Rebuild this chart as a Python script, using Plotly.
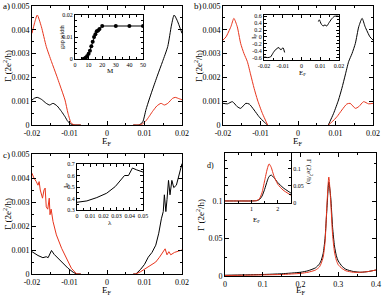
import plotly.graph_objects as go

W, H = 383, 296
BLACK = "#000000"
RED = "#e8341c"
FONT = "Liberation Serif"

# ---------------- panel a ----------------
a_red_left_x = [-0.02, -0.0193, -0.0186, -0.0175, -0.0162, -0.0148, -0.0135, -0.0121, -0.0112, -0.0104, -0.0095, -0.0085, -0.007]
a_red_left_y = [0.00385, 0.0043, 0.00462, 0.00413, 0.0033, 0.00266, 0.0021, 0.00147, 0.00105, 0.00049, 0.00007, 0.0, 0.0]
a_blk_left_x = [-0.02, -0.0193, -0.0186, -0.0175, -0.0162, -0.0153, -0.0144, -0.0133, -0.0121, -0.0112, -0.0104, -0.0095, -0.0085, -0.007]
a_blk_left_y = [0.00105, 0.00113, 0.00116, 0.00108, 0.00091, 0.00084, 0.00091, 0.0008, 0.00056, 0.00035, 0.00014, 0.00003, 0.0, 0.0]
a_blk_right_x = [0.007, 0.0085, 0.0095, 0.0104, 0.0112, 0.0121, 0.0135, 0.0148, 0.0162, 0.0172, 0.0179, 0.0187, 0.02]
a_blk_right_y = [0.0, 0.0, 0.00012, 0.00065, 0.00105, 0.00147, 0.0021, 0.00266, 0.0033, 0.0042, 0.00462, 0.0044, 0.00385]
a_red_right_x = [0.007, 0.0085, 0.0095, 0.0104, 0.0112, 0.0121, 0.0133, 0.0144, 0.0153, 0.0162, 0.0175, 0.0182, 0.0193, 0.02]
a_red_right_y = [0.0, 0.0, 0.00005, 0.00018, 0.00035, 0.00056, 0.0008, 0.00091, 0.00084, 0.00091, 0.00112, 0.00116, 0.0011, 0.00106]

# inset a
ins_a_M = [6, 7, 8, 9, 10, 11, 12, 13, 14, 15, 16, 17, 18, 20, 30, 40, 50]
ins_a_gap = [0.0, 0.0002, 0.0007, 0.0014, 0.0024, 0.0038, 0.0058, 0.0078, 0.0100, 0.0112, 0.0126, 0.0130, 0.0136, 0.0150, 0.0150, 0.0150, 0.0150]

# ---------------- panel b ----------------
b_red_left_x = [-0.02, -0.0192, -0.0179, -0.0171, -0.0162, -0.0153, -0.0144, -0.0135, -0.0126, -0.0117, -0.0108, -0.0095, -0.0085, -0.0081]
b_red_left_y = [0.00357, 0.0037, 0.00413, 0.00448, 0.00413, 0.00343, 0.0030, 0.00266, 0.0021, 0.00154, 0.00105, 0.00049, 0.00014, 0.0]
b_blk_left_x = [-0.02, -0.0188, -0.0175, -0.0162, -0.0153, -0.0139, -0.013, -0.0117, -0.0104, -0.009, -0.0081]
b_blk_left_y = [0.00091, 0.00089, 0.00098, 0.00077, 0.0007, 0.00091, 0.00088, 0.00063, 0.00035, 0.00012, 0.0]
b_blk_right_x = [0.0081, 0.0085, 0.0095, 0.0108, 0.0117, 0.0126, 0.0135, 0.0144, 0.0153, 0.0162, 0.0171, 0.0179, 0.0192, 0.02]
b_blk_right_y = [0.0, 0.00014, 0.00049, 0.00105, 0.00154, 0.0021, 0.00266, 0.0030, 0.00343, 0.00413, 0.00448, 0.00413, 0.0037, 0.00357]
b_red_right_x = [0.0081, 0.009, 0.0104, 0.0117, 0.013, 0.0139, 0.0153, 0.0162, 0.0175, 0.0188, 0.02]
b_red_right_y = [0.0, 0.00012, 0.00035, 0.00063, 0.00088, 0.00091, 0.0007, 0.00077, 0.00098, 0.00089, 0.00091]

# inset b
ins_b_left_x = [-0.0198, -0.018, -0.0165, -0.015, -0.014, -0.013, -0.012, -0.011, -0.0105, -0.0098, -0.009]
ins_b_left_y = [-0.58, -0.60, -0.58, -0.45, -0.38, -0.33, -0.31, -0.38, -0.34, -0.32, -0.45]
ins_b_right_x = [0.009, 0.0095, 0.0105, 0.0115, 0.0125, 0.0135, 0.0145, 0.016, 0.0175, 0.019, 0.0198]
ins_b_right_y = [0.45, 0.50, 0.38, 0.32, 0.35, 0.32, 0.40, 0.52, 0.60, 0.61, 0.60]

# ---------------- panel c ----------------
c_red_left_x = [-0.02, -0.0195, -0.0189, -0.0184, -0.0181, -0.0178, -0.0172, -0.0168, -0.0165, -0.0162, -0.0158, -0.0154, -0.0152, -0.0149, -0.0144, -0.0135, -0.0121, -0.0108, -0.0095, -0.0081, -0.007]
c_red_left_y = [0.0042, 0.0040, 0.00386, 0.0037, 0.00385, 0.0035, 0.00316, 0.0035, 0.00358, 0.0028, 0.0027, 0.00316, 0.00247, 0.0027, 0.00219, 0.00163, 0.00107, 0.00065, 0.00024, 0.0, 0.0]
c_blk_left_x = [-0.02, -0.0184, -0.0171, -0.0162, -0.0157, -0.0153, -0.0148, -0.0141, -0.013, -0.0117, -0.0104, -0.009, -0.0081, -0.007]
c_blk_left_y = [0.00093, 0.00077, 0.00068, 0.00072, 0.00068, 0.00082, 0.00098, 0.00082, 0.00065, 0.00045, 0.00024, 0.00007, 0.0, 0.0]
c_blk_right_x = [0.007, 0.0077, 0.009, 0.01, 0.011, 0.012, 0.013, 0.0138, 0.0145, 0.015, 0.0153, 0.0157, 0.016, 0.0164, 0.0168, 0.0173, 0.0178, 0.0185, 0.019, 0.0195, 0.02]
c_blk_right_y = [0.0, 0.0, 0.0002, 0.0004, 0.0007, 0.0009, 0.0012, 0.0017, 0.0023, 0.0026, 0.0033, 0.0026, 0.0031, 0.0039, 0.0033, 0.0039, 0.0036, 0.0037, 0.0040, 0.0043, 0.0046]
c_red_right_x = [0.007, 0.0077, 0.009, 0.01, 0.011, 0.012, 0.013, 0.014, 0.0148, 0.0155, 0.016, 0.0165, 0.017, 0.0175, 0.018, 0.019, 0.02]
c_red_right_y = [0.0, 0.0, 0.0001, 0.0002, 0.0003, 0.0004, 0.0005, 0.0007, 0.0009, 0.00105, 0.0008, 0.00093, 0.0008, 0.00085, 0.0009, 0.00095, 0.001]

# inset c
ins_c_lam = [0.0, 0.0075, 0.015, 0.0225, 0.029, 0.0325, 0.036, 0.039, 0.041, 0.042, 0.045, 0.05]
ins_c_val = [0.367, 0.379, 0.408, 0.446, 0.504, 0.548, 0.60, 0.60, 0.65, 0.665, 0.65, 0.63]

# ---------------- panel d ----------------
d_x = [0.0, 0.05, 0.1, 0.15, 0.2, 0.22, 0.24, 0.25, 0.255, 0.26, 0.265, 0.27, 0.275, 0.28, 0.285, 0.29, 0.295, 0.3, 0.31, 0.32, 0.34, 0.36, 0.38, 0.4]
d_blk = [0.001, 0.0015, 0.002, 0.003, 0.005, 0.007, 0.011, 0.016, 0.021, 0.03, 0.05, 0.09, 0.125, 0.105, 0.065, 0.04, 0.027, 0.02, 0.013, 0.009, 0.006, 0.005, 0.006, 0.008]
d_red = [0.0007, 0.001, 0.0015, 0.002, 0.0035, 0.005, 0.008, 0.012, 0.017, 0.025, 0.045, 0.095, 0.132, 0.1, 0.055, 0.032, 0.021, 0.015, 0.01, 0.007, 0.005, 0.005, 0.006, 0.008]

ins_d_x = [0.0, 0.5, 1.0, 1.2, 1.3, 1.4, 1.5, 1.6, 1.67, 1.75, 1.85, 2.0, 2.2, 2.5]
ins_d_blk = [0.006, 0.006, 0.006, 0.007, 0.010, 0.020, 0.040, 0.065, 0.078, 0.082, 0.075, 0.060, 0.045, 0.029]
ins_d_red = [0.006, 0.006, 0.006, 0.007, 0.012, 0.030, 0.065, 0.100, 0.115, 0.105, 0.080, 0.055, 0.038, 0.023]

# tick labels
ef_ticks = [-0.02, -0.01, 0, 0.01, 0.02]
ef_labels = ["-0.02", "-0.01", "0", "0.01", "0.02"]
g_ticks = [0, 0.001, 0.002, 0.003, 0.004, 0.005]
g_labels = ["0", "0.001", "0.002", "0.003", "0.004", "0.005"]
d_xticks = [0, 0.1, 0.2, 0.3, 0.4]
d_xlabels = ["0", "0.1", "0.2", "0.3", "0.4"]
d_yticks = [0, 0.05, 0.1]
d_ylabels = ["0", "0.05", "0.1"]
ins_a_xt = [0, 10, 20, 30, 40, 50]
ins_a_xl = ["0", "10", "20", "30", "40", "50"]
ins_a_yt = [0, 0.01, 0.02]
ins_a_yl = ["0", "0.01", "0.02"]
ins_b_yt = [-0.6, -0.4, -0.2, 0, 0.2, 0.4, 0.6]
ins_b_yl = ["-0.6", "-0.4", "-0.2", "0", "0.2", "0.4", "0.6"]
ins_c_xt = [0, 0.01, 0.02, 0.03, 0.04, 0.05]
ins_c_xl = ["0", "0.01", "0.02", "0.03", "0.04", "0.05"]
ins_c_yt = [0.3, 0.4, 0.5, 0.6, 0.7]
ins_c_yl = ["0.3", "0.4", "0.5", "0.6", "0.7"]
ins_d_xt = [1, 2]
ins_d_xl = ["1", "2"]
ins_d_yt = [0, 0.05, 0.1]
ins_d_yl = ["0", "0.05", "0.1"]

fig = go.Figure()

def line(x, y, color, ax, shape="spline", width=1.0):
    fig.add_trace(go.Scatter(x=x, y=y, mode="lines", xaxis="x" + ax, yaxis="y" + ax,
                             line=dict(color=color, width=width, shape=shape, smoothing=0.6),
                             showlegend=False, hoverinfo="skip"))

# main a
line(a_blk_left_x, a_blk_left_y, BLACK, "")
line(a_blk_right_x, a_blk_right_y, BLACK, "")
line(a_red_left_x, a_red_left_y, RED, "")
line(a_red_right_x, a_red_right_y, RED, "")
# main b
line(b_blk_left_x, b_blk_left_y, BLACK, "2")
line(b_blk_right_x, b_blk_right_y, BLACK, "2")
line(b_red_left_x, b_red_left_y, RED, "2")
line(b_red_right_x, b_red_right_y, RED, "2")
# main c
line(c_blk_left_x, c_blk_left_y, BLACK, "3", shape="linear")
line(c_blk_right_x, c_blk_right_y, BLACK, "3", shape="linear")
line(c_red_left_x, c_red_left_y, RED, "3", shape="linear")
line(c_red_right_x, c_red_right_y, RED, "3", shape="linear")
# main d
line(d_x, d_blk, BLACK, "4")
line(d_x, d_red, RED, "4")
# inset a
fig.add_trace(go.Scatter(x=ins_a_M, y=ins_a_gap, mode="lines+markers", xaxis="x5", yaxis="y5",
                         line=dict(color=BLACK, width=1), marker=dict(color=BLACK, size=4),
                         showlegend=False, hoverinfo="skip"))
# inset b
line(ins_b_left_x, ins_b_left_y, BLACK, "6")
line(ins_b_right_x, ins_b_right_y, BLACK, "6")
# inset c
line(ins_c_lam, ins_c_val, BLACK, "7", shape="linear")
# inset d
line(ins_d_x, ins_d_blk, BLACK, "8")
line(ins_d_x, ins_d_red, RED, "8")

def px_x(a, b):
    return [a / W, b / W]

def px_y(top, bottom):
    return [1 - bottom / H, 1 - top / H]

def axis(domain, rng, tv, tt, anchor, size=8, minor_dtick=None, side=None, ticklen=4):
    d = dict(domain=domain, range=rng, tickvals=tv, ticktext=tt, anchor=anchor,
             showline=True, linecolor=BLACK, linewidth=1, mirror="allticks",
             ticks="inside", ticklen=ticklen, tickwidth=1, tickcolor=BLACK,
             showgrid=False, zeroline=False, tickangle=0, automargin=False,
             tickfont=dict(family=FONT, size=size, color=BLACK))
    if minor_dtick is not None:
        d["minor"] = dict(dtick=minor_dtick, ticks="inside", ticklen=max(2, ticklen // 2),
                          tickcolor=BLACK, tickwidth=1, showgrid=False)
    if side:
        d["side"] = side
    return d

ax_a_x, ax_a_y = px_x(32, 182), px_y(6, 125)
ax_b_x, ax_b_y = px_x(223, 373), px_y(6, 125)
ax_c_x, ax_c_y = px_x(32, 182), px_y(154, 274)
ax_d_x, ax_d_y = px_x(225, 376), px_y(153, 276)

IS = 6  # inset tick font size
layout = dict(
    width=W, height=H, margin=dict(l=0, r=0, t=0, b=0),
    paper_bgcolor="white", plot_bgcolor="white",
    font=dict(family=FONT, color=BLACK),
    xaxis=axis(ax_a_x, [-0.02, 0.02], ef_ticks, ef_labels, "y", minor_dtick=0.005),
    yaxis=axis(ax_a_y, [0, 0.005], g_ticks, g_labels, "x", minor_dtick=0.0005),
    xaxis2=axis(ax_b_x, [-0.02, 0.02], ef_ticks, ef_labels, "y2", minor_dtick=0.005),
    yaxis2=axis(ax_b_y, [0, 0.005], g_ticks, g_labels, "x2", minor_dtick=0.0005),
    xaxis3=axis(ax_c_x, [-0.02, 0.02], ef_ticks, ef_labels, "y3", minor_dtick=0.005),
    yaxis3=axis(ax_c_y, [0, 0.005], g_ticks, g_labels, "x3", minor_dtick=0.0005),
    xaxis4=axis(ax_d_x, [0, 0.4], d_xticks, d_xlabels, "y4", minor_dtick=0.05),
    yaxis4=axis(ax_d_y, [0, 0.164], d_yticks, d_ylabels, "x4", minor_dtick=0.025),
    xaxis5=axis(px_x(75, 143), [0, 50], ins_a_xt, ins_a_xl, "y5", size=IS, minor_dtick=5, ticklen=3),
    yaxis5=axis(px_y(15, 59), [0, 0.02], ins_a_yt, ins_a_yl, "x5", size=IS, minor_dtick=0.0025, ticklen=3),
    xaxis6=axis(px_x(264, 339), [-0.02, 0.02], ef_ticks, ef_labels, "y6", size=IS, minor_dtick=0.005, ticklen=3),
    yaxis6=axis(px_y(15, 60), [-0.67, 0.64], ins_b_yt, ins_b_yl, "x6", size=IS, minor_dtick=0.1, ticklen=3),
    xaxis7=axis(px_x(77, 143), [0, 0.05], ins_c_xt, ins_c_xl, "y7", size=IS, minor_dtick=0.005, ticklen=3),
    yaxis7=axis(px_y(164, 210), [0.3, 0.7], ins_c_yt, ins_c_yl, "x7", size=IS, minor_dtick=0.05, ticklen=3),
    xaxis8=axis(px_x(225, 291), [0, 2.5], ins_d_xt, ins_d_xl, "y8", size=IS, minor_dtick=0.5, ticklen=3),
    yaxis8=axis(px_y(153, 203), [0, 0.147], ins_d_yt, ins_d_yl, "x8", size=IS, minor_dtick=0.025, side="right", ticklen=3),
)
fig.update_layout(**layout)

GAMMA = "Γ (2e<sup>2</sup>/h)"
EF = "E<sub>F</sub>"

def ann(text, x, y, size=9, angle=0, xanchor="center", yanchor="middle"):
    fig.add_annotation(text=text, x=x / W, y=1 - y / H, xref="paper", yref="paper",
                       showarrow=False, textangle=angle, xanchor=xanchor, yanchor=yanchor,
                       font=dict(family=FONT, size=size, color=BLACK))

# panel labels
ann("a)", 1, 6, size=9, xanchor="left")
ann("b)", 192, 6, size=9, xanchor="left")
ann("c)", 1, 155, size=9, xanchor="left")
ann("d)", 205, 165, size=8, xanchor="left")
# main axis titles
ann(GAMMA, 7, 66, angle=-90)
ann(GAMMA, 198, 66, angle=-90)
ann(GAMMA, 7, 214, angle=-90)
ann(GAMMA, 200, 215, angle=-90)
ann(EF, 107, 141)
ann(EF, 298, 141)
ann(EF, 107, 290)
ann(EF, 301, 290)
# inset titles
ann("gap width", 62, 37, size=6, angle=-90)
ann("M", 110, 71, size=7)
ann("I<sub>P</sub>", 254, 37, size=7, angle=-90)
ann(EF, 302, 73, size=7)
ann("I<sub>P</sub>", 66, 186, size=7, angle=-90)
ann("λ", 110, 223, size=7)
ann(EF, 256, 220, size=7)
ann(GAMMA, 309, 172, size=7, angle=90)

fig.write_html("out.html")
